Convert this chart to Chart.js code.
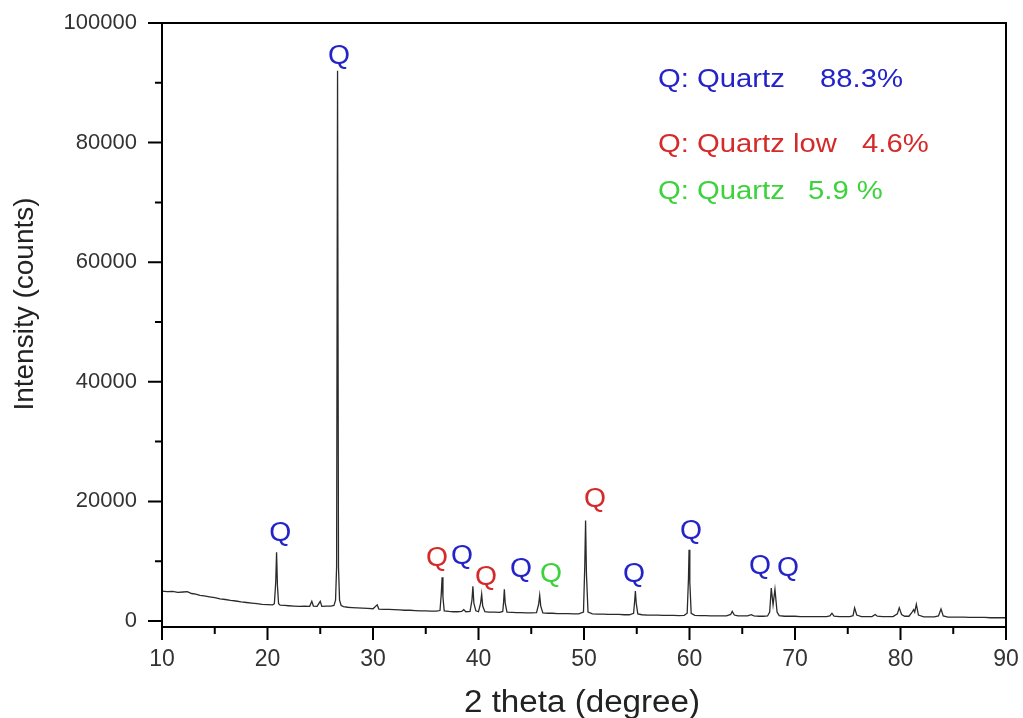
<!DOCTYPE html>
<html>
<head>
<meta charset="utf-8">
<script src="https://cdn.jsdelivr.net/npm/chart.js@4.4.1/dist/chart.umd.min.js"></script>
<style>
  html, body { margin: 0; padding: 0; background: #ffffff; }
  #wrap { width: 1023px; height: 718px; }
</style>
</head>
<body>
<div id="wrap"><canvas id="c" width="1023" height="718"></canvas></div>
<script>
// ---- data ----
const twoTheta = [
  10.0,10.5,11.0,11.5,12.0,12.4,12.8,13.2,13.6,14.0,
  14.5,15.0,15.5,16.0,16.5,17.0,17.5,18.0,18.5,19.0,
  19.5,20.0,20.5,20.65,20.78,20.86,20.94,21.05,21.2,21.6,
  22.0,22.5,23.0,23.5,24.0,24.2,24.35,24.7,25.0,25.15,
  25.6,26.0,26.3,26.45,26.55,26.64,26.73,26.83,26.98,27.2,
  27.6,28.0,28.5,29.0,29.5,30.0,30.4,30.55,31.0,31.5,
  32.0,32.5,33.0,33.5,34.0,34.5,35.0,35.5,36.0,36.35,
  36.47,36.55,36.63,36.75,37.2,37.6,38.0,38.4,38.6,38.8,
  39.2,39.38,39.47,39.56,39.75,40.0,40.2,40.3,40.4,40.6,
  41.0,41.5,42.0,42.3,42.38,42.45,42.53,42.7,43.2,43.6,
  44.0,44.5,45.0,45.5,45.7,45.8,45.9,46.1,46.6,47.0,
  47.5,48.0,48.5,49.0,49.5,49.95,50.07,50.15,50.23,50.38,
  50.8,51.3,51.8,52.3,52.8,53.3,53.8,54.3,54.7,54.8,
  54.87,54.95,55.1,55.5,56.0,56.5,57.0,57.5,58.0,58.5,
  59.0,59.5,59.78,59.9,59.96,60.03,60.16,60.5,61.0,61.5,
  62.0,62.5,63.0,63.5,63.9,64.05,64.25,64.6,65.0,65.5,
  65.85,66.1,66.6,67.0,67.4,67.6,67.75,67.92,68.1,68.3,
  68.5,69.0,69.5,70.0,70.5,71.0,71.5,72.0,72.5,73.0,
  73.3,73.5,73.7,74.2,74.7,75.2,75.5,75.65,75.85,76.3,
  76.8,77.3,77.6,77.8,78.3,78.8,79.3,79.7,79.88,80.1,
  80.4,80.8,81.1,81.25,81.35,81.5,81.7,82.2,82.7,83.2,
  83.6,83.84,84.05,84.5,85.0,85.5,86.0,86.5,87.0,87.5,
  88.0,88.5,89.0,89.5,90.0
];
const counts = [
  5000,4900,4950,4800,4850,4900,4600,4500,4300,4200,
  4050,3900,3700,3600,3450,3350,3200,3100,3000,2900,
  2800,2750,2700,2900,6500,11500,6000,2900,2650,2600,
  2550,2500,2450,2500,2450,3300,2500,2450,3300,2450,
  2500,2500,2600,3500,9000,92000,9000,3500,2600,2400,
  2300,2250,2200,2150,2100,2050,2700,2000,1950,1950,
  1900,1850,1800,1800,1750,1700,1700,1650,1650,1750,
  4500,7300,4000,1700,1600,1550,1550,1600,1900,1550,
  1600,3500,5800,3000,1700,1550,3000,4500,2500,1550,
  1500,1500,1450,1600,3200,5300,3000,1500,1450,1400,
  1400,1350,1350,1400,2800,4300,2500,1350,1300,1300,
  1250,1250,1250,1200,1200,1500,9000,16800,8000,1500,
  1200,1150,1150,1100,1100,1100,1050,1050,1300,3300,
  5000,3000,1200,1050,1000,1000,1000,950,950,950,
  900,950,1300,7000,11900,6500,1300,950,900,900,
  850,850,850,850,1100,1600,1000,850,850,850,
  1050,850,800,800,850,1500,5500,2700,5300,1500,
  900,800,800,800,750,750,750,750,750,750,
  850,1300,800,750,750,750,900,2200,1000,750,
  750,750,1100,800,750,750,750,1200,2200,1100,
  800,800,1500,1900,1500,2800,1000,700,700,700,
  850,2000,850,650,650,650,650,600,600,600,
  600,550,550,550,550
];

const xTickValues = [10, 20, 30, 40, 50, 60, 70, 80, 90];
const yTickValues = [0, 20000, 40000, 60000, 80000, 100000];
const xMinorValues = [15, 25, 35, 45, 55, 65, 75, 85];
const yMinorValues = [10000, 30000, 50000, 70000, 90000];

// peak labels (position in data units, phase)
const qLabelTheta  = [21.2, 26.78, 36.07, 38.44, 40.71, 44.03, 46.87, 51.04, 54.74, 60.14, 66.68, 69.34];
const qLabelCounts = [14900, 94800, 10870, 11200, 7690, 9030, 8190, 20730, 8190, 15380, 9530, 9200];
const qLabelPhase  = ['quartz','quartz','low','quartz','low','quartz','other','low','quartz','quartz','quartz','quartz'];

const legendPhases = ['quartz', 'low', 'other'];
const legendNames  = ['Q: Quartz', 'Q: Quartz low', 'Q: Quartz'];
const legendPcts   = ['88.3%', '4.6%', '5.9 %'];

const xTitle = '2 theta (degree)';
const yTitle = 'Intensity (counts)';

// ---- styling ----
const phaseColor = { quartz: '#2323c8', low: '#d42a2a', other: '#3cd23c' };
const FONT = '"Liberation Sans", Arial, sans-serif';

function stretchedText(ctx, text, x, y, size, color, sx, align) {
  ctx.save();
  ctx.font = size + 'px ' + FONT;
  ctx.fillStyle = color;
  ctx.textAlign = align || 'left';
  ctx.textBaseline = 'alphabetic';
  ctx.translate(x, y);
  ctx.scale(sx, 1);
  ctx.fillText(text, 0, 0);
  ctx.restore();
}

function noScalePadding(s) {
  s.paddingTop = 0; s.paddingBottom = 0; s.paddingLeft = 0; s.paddingRight = 0;
}

const decor = {
  id: 'decor',
  afterDatasetsDraw(chart) {
    const ctx = chart.ctx;
    const a = chart.chartArea;
    const xs = chart.scales.x, ys = chart.scales.y;
    ctx.save();
    // frame
    ctx.strokeStyle = '#000';
    ctx.lineWidth = 2;
    ctx.strokeRect(a.left, a.top, a.right - a.left, a.bottom - a.top);
    // ticks
    ctx.beginPath();
    xTickValues.forEach(v => { const p = xs.getPixelForValue(v); ctx.moveTo(p, a.bottom); ctx.lineTo(p, a.bottom + 13); });
    xMinorValues.forEach(v => { const p = xs.getPixelForValue(v); ctx.moveTo(p, a.bottom); ctx.lineTo(p, a.bottom + 7); });
    yTickValues.forEach(v => { const p = ys.getPixelForValue(v); ctx.moveTo(a.left, p); ctx.lineTo(a.left - 14, p); });
    yMinorValues.forEach(v => { const p = ys.getPixelForValue(v); ctx.moveTo(a.left, p); ctx.lineTo(a.left - 7, p); });
    ctx.stroke();
    ctx.restore();

    // peak labels
    for (let i = 0; i < qLabelTheta.length; i++) {
      const px = xs.getPixelForValue(qLabelTheta[i]);
      const py = ys.getPixelForValue(qLabelCounts[i]);
      stretchedText(ctx, 'Q', px, py + 9.5, 27, phaseColor[qLabelPhase[i]], 1.05, 'center');
    }

    // legend text (top right)
    const nameX = 658;
    const pctX = [820, 862, 808];
    const baseY = [87, 152, 199];
    for (let i = 0; i < legendPhases.length; i++) {
      const col = phaseColor[legendPhases[i]];
      stretchedText(ctx, legendNames[i], nameX, baseY[i], 25, col, 1.17, 'left');
      stretchedText(ctx, legendPcts[i], pctX[i], baseY[i], 25, col, 1.17, 'left');
    }

    // axis titles
    stretchedText(ctx, xTitle, (a.left + a.right) / 2 - 2, 712, 31, '#222', 1.07, 'center');
    ctx.save();
    ctx.translate(33, 304);
    ctx.rotate(-Math.PI / 2);
    ctx.font = '28px ' + FONT;
    ctx.fillStyle = '#222';
    ctx.textAlign = 'center';
    ctx.textBaseline = 'alphabetic';
    ctx.fillText(yTitle, 0, 0);
    ctx.restore();
  }
};

const points = twoTheta.map((t, i) => ({ x: t, y: counts[i] }));

new Chart(document.getElementById('c'), {
  type: 'scatter',
  data: {
    datasets: [{
      data: points,
      showLine: true,
      borderColor: '#2a2a2a',
      borderWidth: 1.3,
      pointRadius: 0,
      pointHoverRadius: 0,
      tension: 0,
      fill: false
    }]
  },
  options: {
    responsive: false,
    animation: false,
    events: [],
    layout: { padding: { top: 23, right: 17, left: 0, bottom: 0 } },
    plugins: { legend: { display: false }, tooltip: { enabled: false }, title: { display: false } },
    scales: {
      x: {
        type: 'linear',
        min: 10, max: 90,
        afterBuildTicks: s => { s.ticks = xTickValues.map(v => ({ value: v })); },
        afterFit: s => { s.height = 91; noScalePadding(s); },
        grid: { display: false, drawTicks: false },
        border: { display: false },
        ticks: { font: { family: FONT, size: 23 }, color: '#333', padding: 19, maxRotation: 0, autoSkip: false }
      },
      y: {
        type: 'linear',
        min: -1000, max: 100000,
        afterBuildTicks: s => { s.ticks = yTickValues.map(v => ({ value: v })); },
        afterFit: s => { s.width = 162; noScalePadding(s); },
        grid: { display: false, drawTicks: false },
        border: { display: false },
        ticks: { font: { family: FONT, size: 22 }, color: '#333', padding: 25, autoSkip: false,
                 callback: v => String(v) }
      }
    }
  },
  plugins: [decor]
});
</script>
</body>
</html>
